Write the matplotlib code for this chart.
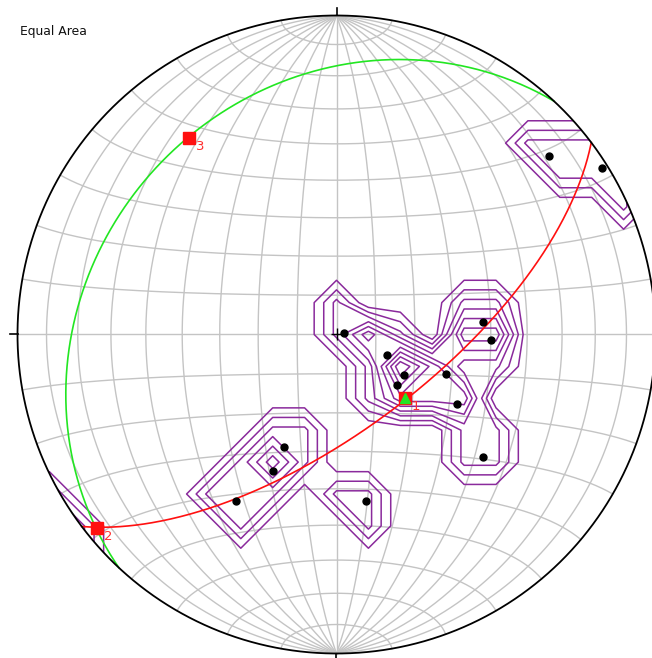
import numpy as np
import matplotlib
matplotlib.use("Agg")
import matplotlib.pyplot as plt
from matplotlib.patches import Circle

# Lineation data (trend / plunge, degrees)
trends = [50, 58, 79, 112, 121, 130, 110, 85, 92, 120, 130, 205, 205, 211, 170]
plunges = [14, 2, 88, 76, 70, 70, 60, 52, 50, 54, 40, 58, 51, 39, 46]

# Eigenvectors of the orientation tensor
eig_trends = [133, 231, 323]
eig_plunges = [66, 4, 24]
eig_labels = ["1", "2", "3"]

# Mean vector
mean_trend = [133]
mean_plunge = [66]

counting_area = 0.01      # counting cone, fraction of hemisphere
contour_step = 2.0        # percent per 1% area
node_step = 0.1           # contouring grid spacing in net units

GRID = "#c4c4c4"
PURPLE = "#8a2a9c"
RED = "#ff1010"
GREEN = "#22e622"


def to_vec(trend, plunge):
    t = np.radians(np.asarray(trend, float))
    p = np.radians(np.asarray(plunge, float))
    return np.stack([np.cos(p) * np.cos(t), np.cos(p) * np.sin(t), np.sin(p)], axis=-1)


def project(v):
    """Lower-hemisphere equal-area (Lambert) projection of (N, E, Down) vectors."""
    v = np.atleast_2d(v).astype(float)
    v = np.where(v[:, 2:3] < 0, -v, v)
    s = 1.0 / np.sqrt(1.0 + v[:, 2])
    return v[:, 1] * s, v[:, 0] * s


def unproject(x, y):
    r2 = x ** 2 + y ** 2
    d = 1.0 - r2
    h = np.sqrt(np.clip(1.0 - d ** 2, 0, None))
    r = np.sqrt(r2)
    with np.errstate(invalid="ignore", divide="ignore"):
        n = np.where(r > 0, y / r * h, 0.0)
        e = np.where(r > 0, x / r * h, 0.0)
    return np.stack([n, e, d], axis=-1), r2 <= 2.0


def plane_from_pole(pole, npts=400):
    p = pole / np.linalg.norm(pole)
    s = np.array([p[1], -p[0], 0.0])
    s /= np.linalg.norm(s)
    d = np.cross(p, s)
    if d[2] < 0:
        d = -d
    t = np.linspace(0, np.pi, npts)[:, None]
    return project(np.cos(t) * s + np.sin(t) * d)


W, H = 652, 658
cx, cy, R = 336.5, 334.5, 319.0

fig = plt.figure(figsize=(W / 100, H / 100), dpi=100)
ax = fig.add_axes([0, 0, 1, 1])
ax.set_xlim(-cx / R, (W - cx) / R)
ax.set_ylim(-(H - cy) / R, cy / R)
ax.axis("off")

# Schmidt net: meridians and small circles every 10 degrees
lat = np.radians(np.linspace(-90, 90, 361))
for lon_d in range(-80, 81, 10):
    lon = np.radians(lon_d)
    v = np.stack([np.sin(lat), np.cos(lat) * np.sin(lon), np.cos(lat) * np.cos(lon)], axis=-1)
    x, y = project(v)
    ax.plot(x, y, color=GRID, lw=1.0, zorder=1)
lon = np.radians(np.linspace(-90, 90, 361))
for lat_d in range(-80, 81, 10):
    la = np.radians(lat_d)
    v = np.stack([np.full_like(lon, np.sin(la)), np.cos(la) * np.sin(lon), np.cos(la) * np.cos(lon)], axis=-1)
    x, y = project(v)
    ax.plot(x, y, color=GRID, lw=1.0, zorder=1)

# Density contours (counting cone on the sphere, axial data)
data = to_vec(trends, plunges)
k = np.arange(-12, 13) * node_step
gx, gy = np.meshgrid(k, k)
nodes, valid = unproject(gx, gy)
cosa = 1.0 - counting_area
dots = np.abs(nodes.reshape(-1, 3) @ data.T)
counts = (dots >= cosa).sum(axis=1).reshape(gx.shape)
dens = counts * 100.0 / len(trends) / (counting_area * 100)
dens = np.where(valid, dens, 0.0)
levels = np.arange(contour_step, dens.max(), contour_step)
cs = ax.contour(gx, gy, dens, levels=levels, colors=PURPLE, linewidths=1.1, zorder=2)
clip = Circle((0, 0), 1.0, transform=ax.transData, fill=False)
cs.set_clip_path(clip)

# Great circles normal to eigenvectors 3 and 1
eig = to_vec(eig_trends, eig_plunges)
x, y = plane_from_pole(eig[2])
ax.plot(x, y, color=RED, lw=1.2, zorder=3)
x, y = plane_from_pole(eig[0])
ax.plot(x, y, color=GREEN, lw=1.2, zorder=3)

# Primitive circle, cardinal ticks and centre cross
th = np.linspace(0, 2 * np.pi, 721)
ax.plot(np.cos(th), np.sin(th), color="black", lw=1.3, zorder=4)
tk = 7.5 / R
for a in (0, 90, 180, 270):
    c, s = np.cos(np.radians(a)), np.sin(np.radians(a))
    ax.plot([c, c * (1 + tk)], [s, s * (1 + tk)], color="black", lw=1.2, zorder=4)
ax.plot([0], [0], marker="+", ms=9, mew=1.0, color="black", zorder=5)

# Data points
px, py = project(data)
ax.plot(px, py, "o", ms=5, color="black", mec="black", zorder=6)

# Eigenvectors and mean vector
ex, ey = project(eig)
ax.plot(ex, ey, "s", ms=8, color=RED, mec=RED, zorder=7)
for xi, yi, lab in zip(ex, ey, eig_labels):
    ax.annotate(lab, (xi, yi), xytext=(5.0, -6.0), textcoords="offset points",
                ha="left", va="center", color="#ff3030", fontsize=9.5, zorder=8)
mx, my = project(to_vec(mean_trend, mean_plunge))
ax.plot(mx, my, "^", ms=7.5, color=GREEN, mec=GREEN, zorder=8)

fig.text(20.5 / W, 1 - 31.5 / H, "Equal Area", ha="left", va="center",
         fontsize=8.9, family="DejaVu Sans", color="#111111")

fig.savefig("out.png", dpi=100)
